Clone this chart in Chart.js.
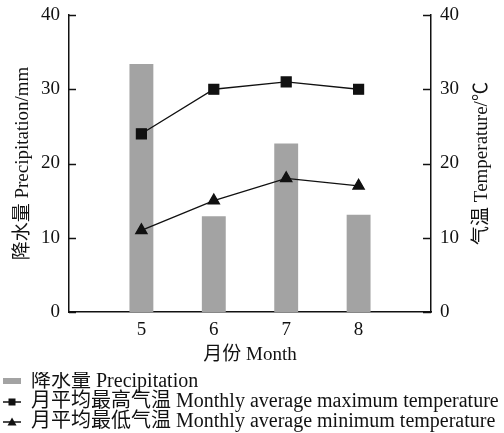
<!DOCTYPE html>
<meta charset="utf8"/>
<style>html,body{margin:0;padding:0;background:#fff;} #wrap{width:504px;height:433px;}</style>
<div id="wrap"><canvas id="_c" width="504" height="433"></canvas></div>
<script src="https://cdn.jsdelivr.net/npm/chart.js"></script>
<script>
const months = ['5', '6', '7', '8'];
const precipitation = [33.4, 12.9, 22.7, 13.1];
const tempMax = [24, 30, 31, 30];
const tempMin = [11, 15, 18, 17];
const yTicks = [0, 10, 20, 30, 40];

const FONT = "'Liberation Serif', 'Noto Sans CJK SC', serif";
const INK = '#111';
const BAR = '#a3a3a3';

// empty slot on each side, like the original axis
const labels = ['', ...months, ''];
const pad = a => [null, ...a, null];

function glyph(kind) {
	const c = document.createElement('canvas');
	c.width = 18; c.height = 12;
	const g = c.getContext('2d');
	if (kind === 'bar') {
		g.fillStyle = BAR;
		g.fillRect(0, 2, 18, 6);
		return c;
	}
	g.strokeStyle = INK; g.fillStyle = INK; g.lineWidth = 1.5;
	g.beginPath(); g.moveTo(0, 6); g.lineTo(18, 6); g.stroke();
	if (kind === 'rect') g.fillRect(5.5, 2.5, 7, 7);
	else { g.beginPath(); g.moveTo(9, 1.5); g.lineTo(13.5, 9.5); g.lineTo(4.5, 9.5); g.closePath(); g.fill(); }
	return c;
}

const inwardTicks = {
	id: 'inwardTicks',
	afterDraw(chart) {
		const ctx = chart.ctx;
		ctx.save();
		ctx.strokeStyle = INK;
		ctx.lineWidth = 1.5;
		for (const [id, dir, len] of [['y', 1, 7], ['y2', -1, 8]]) {
			const s = chart.scales[id];
			const x0 = id === 'y' ? s.right : s.left;
			s.ticks.forEach(t => {
				const py = Math.round(s.getPixelForValue(t.value)) + 0.5;
				ctx.beginPath(); ctx.moveTo(x0, py); ctx.lineTo(x0 + dir * len, py); ctx.stroke();
			});
		}
		// right axis title, reading bottom to top
		const s2 = chart.scales.y2;
		ctx.fillStyle = INK;
		ctx.font = '19px ' + FONT;
		ctx.textAlign = 'center';
		ctx.textBaseline = 'middle';
		ctx.translate(s2.right - 22, (s2.top + s2.bottom) / 2);
		ctx.rotate(-Math.PI / 2);
		ctx.fillText('气温 Temperature/℃', 0, 0);
		ctx.restore();
	}
};

const fitY = w => s => { s.width = w; s.paddingTop = 0; s.paddingBottom = 0; };

new Chart(_c, {
	data: {
		labels: labels,
		datasets: [
			{
				type: 'line',
				label: '月平均最高气温 Monthly average maximum temperature',
				data: pad(tempMax),
				borderColor: INK,
				backgroundColor: INK,
				borderWidth: 1.3,
				pointStyle: 'rect',
				pointRadius: 7,
				yAxisID: 'y2',
				legendGlyph: 'rect',
				order: 1,
			},
			{
				type: 'line',
				label: '月平均最低气温 Monthly average minimum temperature',
				data: pad(tempMin),
				borderColor: INK,
				backgroundColor: INK,
				borderWidth: 1.3,
				pointStyle: 'triangle',
				pointRadius: 6.5,
				yAxisID: 'y2',
				legendGlyph: 'tri',
				order: 1,
			},
			{
				type: 'bar',
				label: '降水量 Precipitation',
				data: pad(precipitation),
				backgroundColor: BAR,
				categoryPercentage: 1,
				barPercentage: 0.33,
				yAxisID: 'y',
				legendGlyph: 'bar',
				order: 2,
			},
		]
	},
	options: {
		responsive: false,
		animation: false,
		layout: {padding: {left: 3, top: 15, right: 0, bottom: -9}},
		scales: {
			x: {
				offset: false,
				grid: {display: false, drawTicks: false},
				border: {display: true, color: INK, width: 1.5},
				ticks: {color: INK, padding: 7, font: {family: FONT, size: 19}, autoSkip: false, maxRotation: 0},
				title: {display: true, text: '月份 Month', color: INK, padding: {top: 0, bottom: 5.5}, font: {family: FONT, size: 19}},
				afterFit: s => { s.height = 60; s.paddingLeft = 0; s.paddingRight = 0; },
			},
			y: {
				position: 'left',
				min: 0, max: 40,
				afterBuildTicks: s => { s.ticks = yTicks.map(v => ({value: v})); },
				grid: {display: false, drawTicks: false},
				border: {display: true, color: INK, width: 1.5},
				ticks: {color: INK, padding: 9, font: {family: FONT, size: 19}},
				title: {display: true, text: '降水量 Precipitation/mm', color: INK, padding: {top: 9, bottom: 0}, font: {family: FONT, size: 19}},
				afterFit: fitY(66),
			},
			y2: {
				position: 'right',
				min: 0, max: 40,
				afterBuildTicks: s => { s.ticks = yTicks.map(v => ({value: v})); },
				grid: {display: false, drawTicks: false},
				border: {display: true, color: INK, width: 1.5},
				ticks: {color: INK, padding: 9, font: {family: FONT, size: 19}},
				afterFit: fitY(73),
			},
		},
		plugins: {
			tooltip: {enabled: false},
			legend: {
				position: 'bottom',
				align: 'start',
				labels: {
					color: INK,
					padding: 0,
					usePointStyle: true,
					pointStyleWidth: 18,
					font: {family: FONT, size: 20},
					generateLabels: chart => [2, 0, 1].map(i => {
						const ds = chart.data.datasets[i];
						return {
							text: ds.label,
							pointStyle: glyph(ds.legendGlyph),
							fontColor: INK,
							lineWidth: 0,
							datasetIndex: i,
							hidden: false,
						};
					}),
				},
			},
		},
	},
	plugins: [inwardTicks],
});
</script>
